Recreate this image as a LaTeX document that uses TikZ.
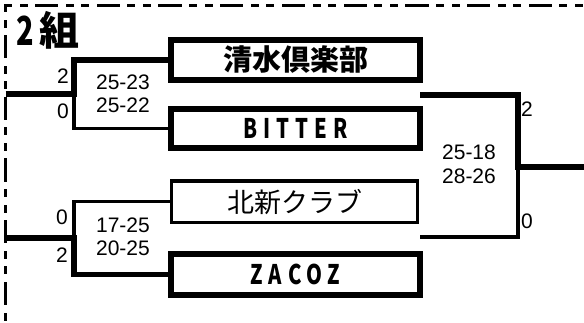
\documentclass[tikz,border=0pt]{standalone}
\usepackage{fontspec}
\setmainfont{Liberation Sans}
\newfontfamily\jpfont{Noto Sans CJK JP}
\newfontfamily\jpcond[FakeStretch=0.72]{Noto Sans CJK JP}
\newfontfamily\jpspaced[FakeStretch=0.75,LetterSpace=22]{Noto Sans CJK JP}

\begin{document}
\begin{tikzpicture}[x=1pt, y=-1pt,
    team/.style={draw, line width=5.7pt, minimum width=249pt, minimum height=40pt, inner sep=0pt, outer sep=0pt},
    loser/.style={team, line width=3.3pt},
    win/.style={line width=5.7pt},
    lose/.style={line width=3.3pt},
    jpname/.style={font=\jpfont\bfseries\fontsize{29}{34}\selectfont},
    enname/.style={font=\jpspaced\bfseries\fontsize{27}{30}\selectfont},
    score/.style={font=\fontsize{21}{23.3}\selectfont, align=center, inner sep=0pt},
    border/.style={line width=3.3pt, line cap=rect, dash pattern=on 4.7pt off 10.9pt on 4.7pt off 10.7pt on 20pt off 10.7pt}]
    \useasboundingbox (0,0) rectangle (584,322);
    % group frame
    \coordinate (corner) at (5.7,5.7);
    \draw[border] (corner) -- (584,5.7);
    \draw[border] (corner) -- (5.7,322);
    \node[anchor=west, inner sep=0pt, font=\jpfont\bfseries\fontsize{40}{42}\selectfont] (title) at (16,30) {{\jpcond 2}\hspace{6pt}組};
    % teams
    \node[team, jpname] (shimizu) at (295.5,60) {清水倶楽部};
    \node[team, enname, minimum height=39pt] (bitter) at (295.5,128.5) {BITTER};
    \node[loser, font=\jpfont\fontsize{27}{30}\selectfont, minimum width=246pt, minimum height=41.5pt] (hokushin) at (294.6,201.7) {北新クラブ};
    \node[team, enname, minimum height=41pt] (zacoz) at (295.5,274.5) {ZACOZ};
    % first round
    \coordinate (inA) at (5.7,94);
    \coordinate (jA) at (74,94);
    \coordinate (inB) at (5.7,238);
    \coordinate (jB) at (74,238);
    \draw[win] (inA) -- (jA) |- (shimizu.west);
    \draw[lose] (jA) |- (bitter.west);
    \draw[lose] (jB) |- (hokushin.west);
    \draw[win] (inB) -- (jB) |- (zacoz.west);
    \node[score] (setA) at (123,94) {25-23\\25-22};
    \node[score] (setB) at (123,236.5) {17-25\\20-25};
    \node[score] (winA) at (63,76) {2};
    \node[score] (loseA) at (63,111.7) {0};
    \node[score] (loseB) at (62,217.5) {0};
    \node[score] (winB) at (62,255) {2};
    % final
    \coordinate (fTop) at (420,95);
    \coordinate (fBot) at (420,237);
    \coordinate (jF) at (518,167);
    \coordinate (out) at (584,167);
    \draw[win] (fTop) -| (jF) -- (out);
    \draw[lose] (jF) |- (fBot);
    \node[score] (setF) at (469,164.3) {25-18\\28-26};
    \node[score] (winF) at (527,109) {2};
    \node[score] (loseF) at (527,220.8) {0};
\end{tikzpicture}
\end{document}
